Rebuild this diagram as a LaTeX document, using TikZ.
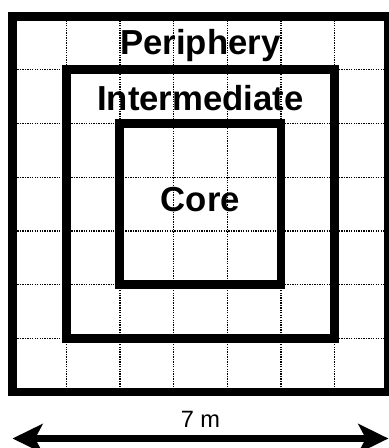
\documentclass[tikz,border=0pt]{standalone}
\usepackage{fontspec}
\setmainfont{Liberation Sans}
\usetikzlibrary{arrows.meta}
\tikzset{
  gridline/.style={line width=0.7pt, dash pattern=on 0.7pt off 0.6pt, black},
  zone/.style={line width=4.7pt, line join=miter},
  zonelabel/.style={font=\fontsize{18.4}{22}\selectfont\bfseries, anchor=base, inner sep=0pt},
  dimlabel/.style={font=\fontsize{12.5}{15}\selectfont, anchor=base, inner sep=0pt},
  dimarrow/.style={{Stealth[length=5.6mm, width=5.4mm, inset=1.4mm]}-{Stealth[length=5.6mm, width=5.4mm, inset=1.4mm]}, line width=3.2pt}
}
\begin{document}
\begin{tikzpicture}
  \useasboundingbox (-0.233,-1.043) rectangle (7.011,7.30);
  % dotted 1 m grid
  \foreach \i in {1,...,6} {
    \draw[gridline] (\i,0) -- (\i,7);
    \draw[gridline] (0,\i) -- (7,\i);
  }
  % zones
  \draw[zone] (0,0) rectangle (7,7);
  \draw[zone] (1,1) rectangle (6,6);
  \draw[zone] (2,2) rectangle (5,5);
  \node[zonelabel] (periphery) at (3.5,6.294) {Periphery};
  \node[zonelabel] (intermediate) at (3.5,5.25) {Intermediate};
  \node[zonelabel] (core) at (3.5,3.37) {Core};
  % width
  \coordinate (dimleft) at (0,-0.866);
  \coordinate (dimright) at (7,-0.866);
  \draw[dimarrow] (dimleft) -- (dimright);
  \node[dimlabel] (width) at (3.5,-0.665) {7 m};
\end{tikzpicture}
\end{document}
